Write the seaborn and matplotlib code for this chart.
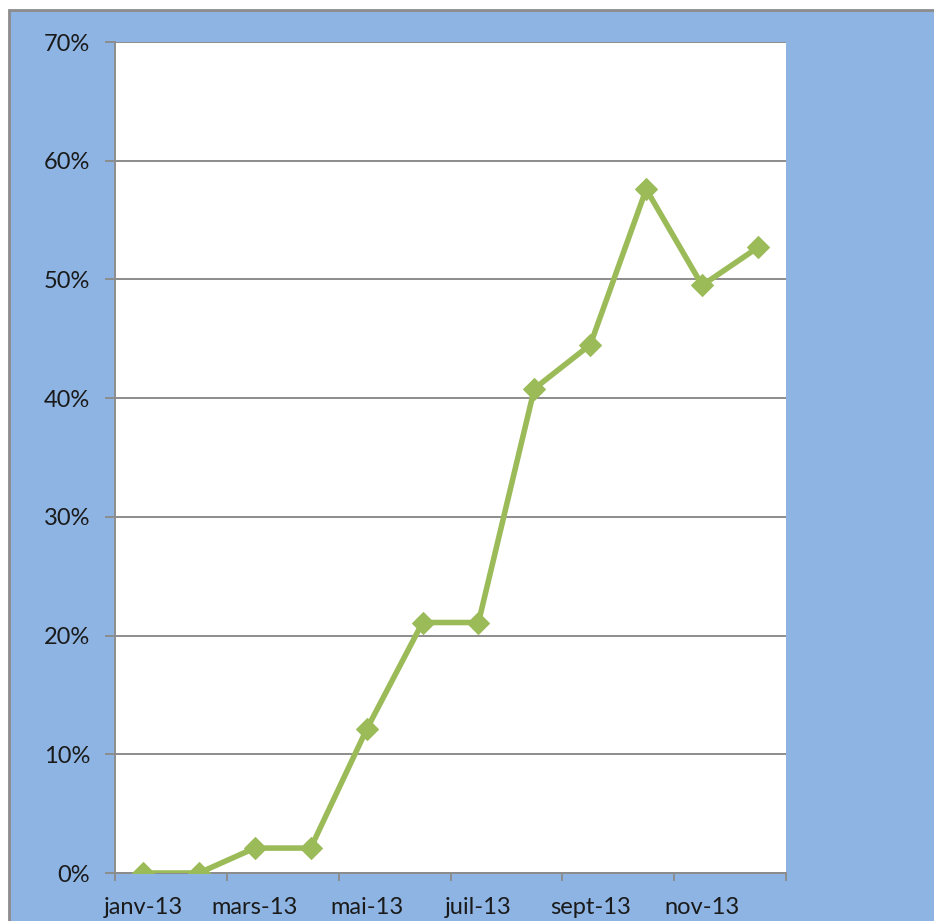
import matplotlib
matplotlib.use("Agg")
import matplotlib.pyplot as plt
from matplotlib.patches import Rectangle
from matplotlib.ticker import FixedLocator, FuncFormatter
import seaborn as sns
import pandas as pd

months = ["janv-13", "févr-13", "mars-13", "avr-13", "mai-13", "juin-13",
          "juil-13", "août-13", "sept-13", "oct-13", "nov-13", "déc-13"]
values = [0.0, 0.0, 2.1, 2.1, 12.1, 21.1, 21.1, 40.8, 44.5, 57.6, 49.5, 52.7]
y_ticks = [0, 10, 20, 30, 40, 50, 60, 70]

df = pd.DataFrame({"idx": range(len(months)), "month": months, "value": values})

sns.set_theme(style="white")
plt.rcParams['font.family'] = ['Lato', 'DejaVu Sans']

fig = plt.figure(figsize=(9.34, 9.21), dpi=100)
fig.patch.set_facecolor("white")
fig.add_artist(Rectangle((9/934, -0.01), 1.0, (921-10)/921 + 0.01, transform=fig.transFigure,
                         facecolor="#8EB4E3", edgecolor="#8C8C8C", linewidth=2, zorder=0))

ax = fig.add_axes([115/934, (921-873)/921, (786-115)/934, (873-42)/921])
ax.set_facecolor("white")

sns.lineplot(data=df, x="idx", y="value", ax=ax, color="#9BBB59", linewidth=4,
             marker="D", markersize=11, markeredgecolor="#9BBB59", zorder=5)

ax.set_xlim(-0.5, len(months) - 0.5)
ax.set_ylim(0, 70)

ax.yaxis.set_major_locator(FixedLocator(y_ticks))
ax.yaxis.set_major_formatter(FuncFormatter(lambda v, p: f"{int(v)}%"))
ax.grid(axis="y", color="#8C8C8C", linewidth=1.4)
ax.set_axisbelow(True)

major = [i - 0.5 for i in range(0, len(months) + 1, 2)]
ax.xaxis.set_major_locator(FixedLocator(major))
ax.xaxis.set_major_formatter(FuncFormatter(lambda v, p: ""))
ax.xaxis.set_minor_locator(FixedLocator(list(range(0, len(months), 2))))
ax.set_xticklabels([months[i] for i in range(0, len(months), 2)], minor=True)

ax.tick_params(axis="x", which="major", length=6, width=1.4, color="#8C8C8C", bottom=True)
ax.tick_params(axis="x", which="minor", length=0, labelsize=17, labelcolor="#1a1a1a", pad=17)
ax.tick_params(axis="y", which="major", length=7, width=1.4, color="#8C8C8C", left=True,
               labelsize=17, labelcolor="#1a1a1a", pad=11)

for s in ["top", "right"]:
    ax.spines[s].set_visible(False)
for s in ["left", "bottom"]:
    ax.spines[s].set_color("#8C8C8C")
    ax.spines[s].set_linewidth(1.4)

ax.set_xlabel("")
ax.set_ylabel("")

fig.savefig("out.png", dpi=100)
